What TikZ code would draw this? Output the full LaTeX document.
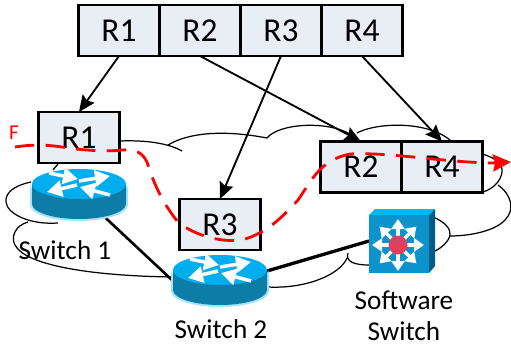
\documentclass[tikz,border=0pt]{standalone}
\usepackage{fontspec}
\setmainfont{Carlito}
\usetikzlibrary{arrows.meta,positioning}
\definecolor{boxfill}{HTML}{E9EDF4}
\definecolor{routertop}{HTML}{00AEEF}
\definecolor{routerside}{HTML}{0D7CA6}
\definecolor{routerglow}{HTML}{A6E3F7}
\definecolor{softfront}{HTML}{0C93CC}
\definecolor{softtop}{HTML}{00B8F0}
\definecolor{softside}{HTML}{005E85}
\definecolor{softcore}{HTML}{E0405F}
\tikzset{
    %Define standard arrow tip
    >={Stealth[length=3.3mm,width=2.9mm,inset=.5mm]},
    %Define style for boxes
    regbox/.style={
           rectangle,
           draw=black, line width=1.5pt,
           fill=boxfill,
           outer sep=0pt,
           inner sep=0pt,
           minimum width=1.62cm,
           minimum height=1.02cm,
           font=\fontsize{19}{23}\selectfont,
           text centered,
           },
    %Define style for invisible icon anchors
    iconbox/.style={
           rectangle,
           outer sep=0pt,
           inner sep=0pt,
           },
    devlabel/.style={
           font=\fontsize{15.5}{17.6}\selectfont,
           align=center,
           inner sep=0pt,
           },
    % Define line styles
    pil/.style={->, line width=1.05pt},
    link/.style={black, line width=1.5pt},
    cloudline/.style={black, line width=.7pt},
    flow/.style={red, line width=1.6pt, dash pattern=on 11pt off 6.5pt},
    routerarrow/.style={-{Triangle[length=3mm,width=3.2mm]},white,line width=2pt},
    % Define icons
    pics/routericon/.style={code={
        \fill[routerglow] (-49,0) -- (-49,21) arc[start angle=180,end angle=0,x radius=49,y radius=16] -- (49,0) arc[start angle=0,end angle=180,x radius=49,y radius=17] -- cycle;
        \fill[routerside] (-47,0) -- (-47,20) arc[start angle=180,end angle=0,x radius=47,y radius=15] -- (47,0) -- cycle;
        \fill[routertop] (0,0) ellipse[x radius=47,y radius=15];
        \draw[routerarrow] (-30,-11) -- (-1,-5);
        \draw[routerarrow] (0,-3) -- (31,-8);
        \draw[routerarrow] (-2,1) -- (-32,8);
        \draw[routerarrow] (31,11) -- (1,3);
    }},
    pics/softicon/.style={code={
        \fill[softtop] (0,0) -- (6,-6) -- (66,-6) -- (60,0) -- cycle;
        \fill[softside] (60,0) -- (66,-6) -- (66,51) -- (60,58) -- cycle;
        \fill[softfront] (0,0) rectangle (60,58);
        \foreach \ang in {0,45,...,315}
            \draw[-{Triangle[length=2mm,width=2.6mm]},white,line width=2pt] (29,30) -- ++(\ang:26);
        \fill[softcore] (29,30) circle[radius=9.5];
    }}
}
\begin{document}
\begin{tikzpicture}[x=0.02cm,y=-0.02cm]
\useasboundingbox (0,0) rectangle (511,345);
 %cloud
\draw[cloudline] (120,141) .. controls (145,140) and (168,143) .. (182,151);
\draw[cloudline] (168,145) .. controls (190,132) and (225,130) .. (267,138);
\draw[cloudline] (267,138) .. controls (278,124) and (325,120) .. (350,134);
\draw[cloudline] (357,133) .. controls (375,123) and (425,120) .. (450,140);
\draw[cloudline] (482,154) .. controls (497,158) and (503,165) .. (502,172) .. controls (501,181) and (493,189) .. (483,192);
\draw[cloudline] (498,185) .. controls (512,195) and (515,210) .. (505,220) .. controls (495,231) and (470,236) .. (450,236);
\draw[cloudline] (433,217) .. controls (445,222) and (451,229) .. (450,235) .. controls (449,241) and (442,248) .. (433,252);
\draw[cloudline] (268,287) .. controls (305,289) and (340,275) .. (347,258);
\draw[cloudline] (348,253) .. controls (345,262) and (355,265) .. (369,265);
\draw[cloudline] (31,182) .. controls (12,186) and (5,194) .. (6,202) .. controls (7,214) and (30,225) .. (58,223);
\draw[cloudline] (28,222) .. controls (14,226) and (11,238) .. (15,245) .. controls (25,265) and (90,276) .. (174,277);
\draw[cloudline] (58,164) -- (53,170);
 %links
\node[iconbox, minimum width=1.88cm, minimum height=1cm](sw1) at (79,193){};
\node[iconbox, minimum width=1.88cm, minimum height=1.02cm](sw2) at (220,281){};
\node[iconbox, minimum width=1.32cm, minimum height=1.28cm](soft) at (402,241){};
\draw[link] (sw1) -- (sw2.west);
\draw[link, line width=1.9pt] (sw2.12) -- (soft.west);
 %icons
\pic at (79,184) {routericon};
\pic at (220,270) {routericon};
\pic at (369,215) {softicon};
 %nodes
\node[regbox](top1) at (119,30.5){R1};
\node[regbox, right=0pt of top1](top2){R2};
\node[regbox, right=0pt of top2](top3){R3};
\node[regbox, right=0pt of top3](top4){R4};
\node[regbox](r1) at (79,137.5){R1};
\node[regbox](r3) at (220,224.5){R3};
\node[regbox](r2) at (361,167){R2};
\node[regbox, right=0pt of r2](r4){R4};
\node[devlabel](lab1) at (65,250){Switch 1};
\node[devlabel](lab2) at (221,329){Switch 2};
\node[devlabel](lab3) at (404,316){Software\\Switch};
\node[red, inner sep=0pt, font=\fontsize{12}{14}\selectfont](flowname) at (14,133){F};
 %arrows
\draw[pil] (top1.south) -- (r1.north);
\draw[pil] (top2.south) -- (r2.north);
\draw[pil] (top3.south) -- (r3.north);
\draw[pil] (top4.south) -- (r4.north);
 %flow
\coordinate (flowstart) at (15,147);
\coordinate (flowstop) at (492,163);
\coordinate (flowtip) at (511,162);
\draw[flow] (flowstart) .. controls (28,145) and (42,144) .. (62,147)
   .. controls (80,150) and (105,152) .. (122,150)
   .. controls (135,149) and (142,152) .. (147,162)
   .. controls (152,178) and (160,200) .. (178,222)
   .. controls (195,236) and (225,244) .. (245,239)
   .. controls (265,233) and (280,220) .. (298,200)
   .. controls (312,180) and (320,160) .. (350,154)
   .. controls (390,152) and (440,162) .. (flowstop);
\draw[-{Stealth[length=3.6mm,width=3.4mm,inset=.4mm]}, red, line width=1.6pt] (flowstop) -- (flowtip);
\end{tikzpicture}
\end{document}
